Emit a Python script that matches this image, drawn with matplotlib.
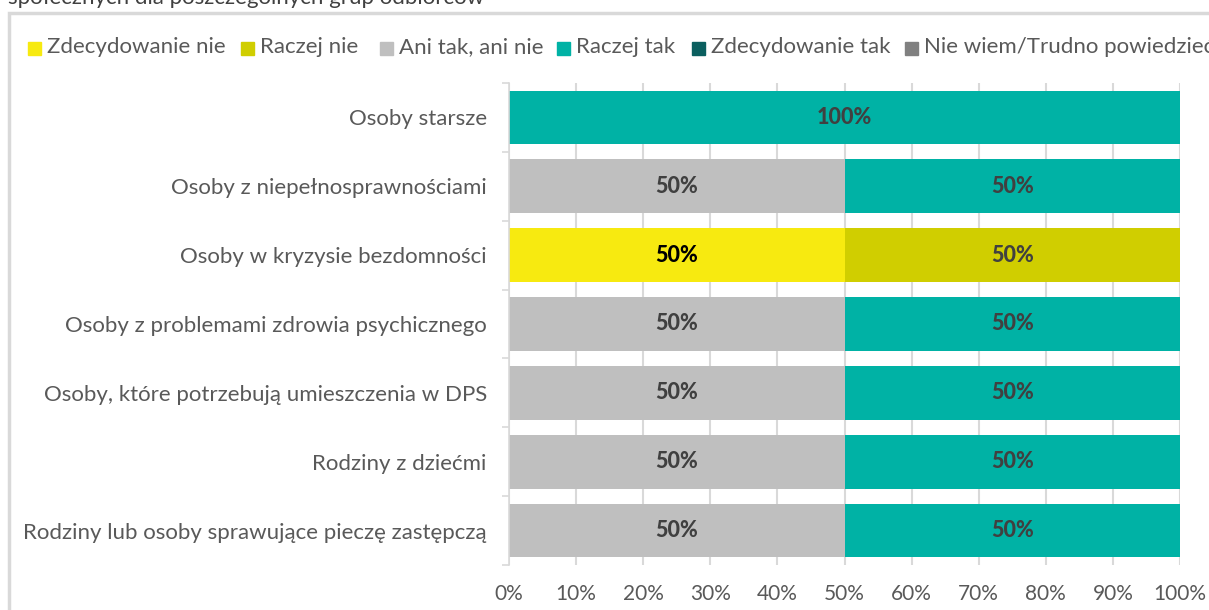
import numpy as np
import matplotlib.pyplot as plt
from matplotlib.patches import Rectangle

plt.rcParams['font.family'] = ['Lato', 'DejaVu Sans']

categories = [
    "Osoby starsze",
    "Osoby z niepełnosprawnościami",
    "Osoby w kryzysie bezdomności",
    "Osoby z problemami zdrowia psychicznego",
    "Osoby, które potrzebują umieszczenia w DPS",
    "Rodziny z dziećmi",
    "Rodziny lub osoby sprawujące pieczę zastępczą",
]
series_names = ["Zdecydowanie nie", "Raczej nie", "Ani tak, ani nie",
                "Raczej tak", "Zdecydowanie tak", "Nie wiem/Trudno powiedzieć"]
zdecydowanie_nie = [0, 0, 50, 0, 0, 0, 0]
raczej_nie = [0, 0, 50, 0, 0, 0, 0]
ani_tak_ani_nie = [0, 50, 0, 50, 50, 50, 50]
raczej_tak = [100, 50, 0, 50, 50, 50, 50]
zdecydowanie_tak = [0, 0, 0, 0, 0, 0, 0]
nie_wiem = [0, 0, 0, 0, 0, 0, 0]

colors = ["#F7EA10", "#D0CE00", "#BFBFBF", "#00B2A5", "#0B5F5F", "#808080"]
label_colors = ["#000000", "#404040", "#404040", "#404040", "#FFFFFF", "#FFFFFF"]
text_gray = "#595959"
grid_gray = "#D9D9D9"

series = [zdecydowanie_nie, raczej_nie, ani_tak_ani_nie, raczej_tak, zdecydowanie_tak, nie_wiem]

fig = plt.figure(figsize=(12.09, 6.10), dpi=100)
ax = fig.add_axes([509 / 1209, 1 - 565 / 610, (1180 - 509) / 1209, (565 - 83) / 610])

y = np.arange(len(categories))
left = np.zeros(len(categories))
for vals, col, lcol in zip(series, colors, label_colors):
    vals = np.array(vals, dtype=float)
    ax.barh(y, vals, left=left, height=0.78, color=col, zorder=2)
    for yi, (l, v) in enumerate(zip(left, vals)):
        if v > 0:
            ax.text(l + v / 2, yi, f"{v:.0f}%", ha='center', va='center',
                    fontsize=15.5, fontweight='black', color=lcol, zorder=3)
    left += vals

ax.set_xlim(0, 100)
ax.set_ylim(len(categories) - 0.5, -0.5)
ax.set_xticks(np.arange(0, 101, 10))
ax.set_xticklabels([f"{t}%" for t in range(0, 101, 10)], fontsize=15, color=text_gray)
ax.tick_params(axis='x', length=0, pad=14)
ax.set_yticks(y)
ax.set_yticklabels(categories, fontsize=16, color=text_gray)
ax.tick_params(axis='y', which='major', length=0, pad=16)
ax.set_yticks(np.arange(-0.5, len(categories)), minor=True)
ax.tick_params(axis='y', which='minor', length=5, width=1.2, color=grid_gray)
ax.grid(axis='x', color=grid_gray, linewidth=1.5, zorder=0)
ax.set_axisbelow(True)
for s in ['top', 'right', 'bottom']:
    ax.spines[s].set_visible(False)
ax.spines['left'].set_color(grid_gray)
ax.spines['left'].set_linewidth(1.2)

# chart frame, running off the edges of the image
fig.patches.append(Rectangle((9 / 1209, -0.1), 1.2, 1.1 - 13 / 610,
                             transform=fig.transFigure, fill=False,
                             edgecolor=grid_gray, linewidth=2.5))

# heading line above the frame, partly cut off
fig.text(8 / 1209, 1 - 4 / 610, "społecznych dla poszczególnych grup odbiorców",
         fontsize=16, color="#404040", va='baseline', ha='left')

# legend row
legend_x = [28, 241, 380, 557, 692, 905]
for name, col, lx in zip(series_names, colors, legend_x):
    fig.patches.append(Rectangle((lx / 1209, 1 - 55 / 610), 13 / 1209, 13 / 610,
                                 transform=fig.transFigure, color=col))
    fig.text((lx + 19) / 1209, 1 - 47 / 610, name, fontsize=16,
             color=text_gray, va='center', ha='left')

fig.savefig("out.png", dpi=100)
